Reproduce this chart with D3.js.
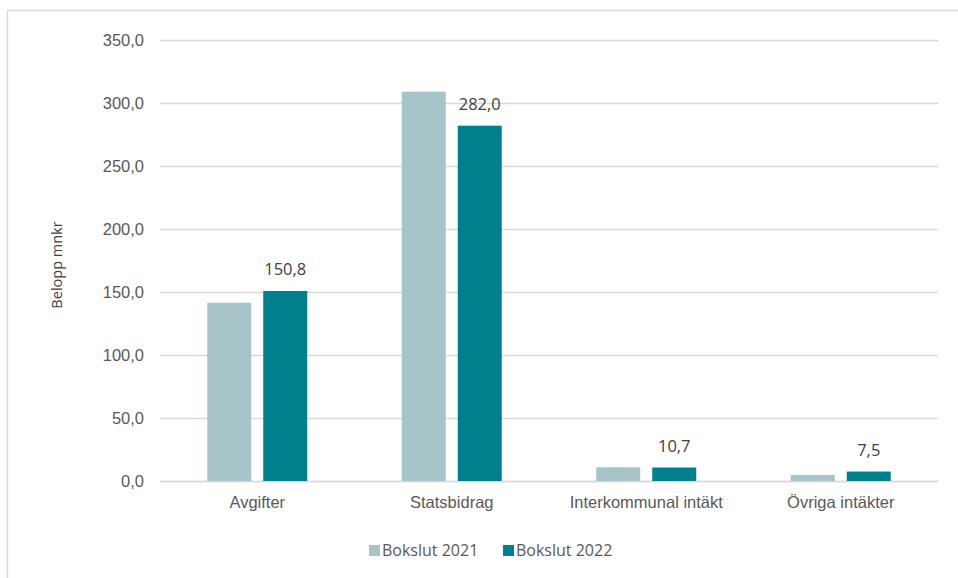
<!DOCTYPE html>
<html><head><meta charset="utf-8">
<script src="https://cdn.jsdelivr.net/npm/d3@7"></script>
<style>body{margin:0;background:#fff;}svg{display:block;font-family:"Open Sans","Noto Sans",sans-serif;}</style>
</head><body><svg id="c" width="958" height="578"></svg>
<script>
const categories = ["Avgifter", "Statsbidrag", "Interkommunal intäkt", "Övriga intäkter"];
const seriesNames = ["Bokslut 2021", "Bokslut 2022"];
const values2021 = [141.5, 309.0, 10.9, 4.8];
const values2022 = [150.8, 282.0, 10.7, 7.5];
const yTicks = [0, 50, 100, 150, 200, 250, 300, 350];
const colors = ["#A7C4C9", "#00808C"];

const svg = d3.select("#c");
const fmt = v => d3.format(".1f")(v).replace(".", ",");
svg.append("rect").attr("x", 7.5).attr("y", 10.5).attr("width", 1000).attr("height", 1000)
  .attr("fill", "none").attr("stroke", "#d9d9d9").attr("stroke-width", 1.5);

const L = 160, R = 938, T = 40, B = 481;
const x = d3.scaleBand().domain(categories).range([L, R]);
const groupW = 100;
const xs = d3.scaleBand().domain(seriesNames).range([0, groupW]).paddingInner(12 / 56).paddingOuter(0);
const off = (x.bandwidth() - groupW) / 2;
const y = d3.scaleLinear().domain([0, 350]).range([B, T]);

const ya = svg.append("g").attr("transform", `translate(${L},0)`)
  .call(d3.axisLeft(y).tickValues(yTicks).tickSize(-(R - L)).tickFormat(fmt).tickPadding(16));
ya.select(".domain").remove();
ya.selectAll(".tick line").attr("stroke", "#d9d9d9").attr("stroke-width", 1.3);
ya.selectAll(".tick text").attr("fill", "#595959").style("font-size", "16.5px");

const xa = svg.append("g").attr("transform", `translate(0,${B})`)
  .call(d3.axisBottom(x).tickSize(0).tickPadding(15));
xa.select(".domain").attr("stroke", "#d9d9d9").attr("stroke-width", 1.3);
xa.selectAll(".tick text").attr("fill", "#595959").style("font-size", "16.5px");

const series = [values2021, values2022];
series.forEach((vals, si) => {
  svg.append("g").selectAll("rect").data(vals).join("rect")
    .attr("x", (d, i) => x(categories[i]) + off + xs(seriesNames[si]))
    .attr("width", xs.bandwidth())
    .attr("y", d => y(d)).attr("height", d => B - y(d))
    .attr("fill", colors[si]);
});
svg.append("g").selectAll("text").data(values2022).join("text")
  .attr("x", (d, i) => x(categories[i]) + off + xs(seriesNames[1]) + xs.bandwidth() / 2)
  .attr("y", d => y(d) - 16)
  .attr("text-anchor", "middle").attr("fill", "#404040").style("font-size", "16.5px")
  .text(fmt);

svg.append("text").attr("transform", "translate(62,265) rotate(-90)")
  .attr("text-anchor", "middle").attr("fill", "#404040").style("font-size", "14.5px").text("Belopp mnkr");

const lg = svg.append("g");
const lx = [369, 503];
seriesNames.forEach((n, i) => {
  lg.append("rect").attr("x", lx[i]).attr("y", 545).attr("width", 11).attr("height", 11).attr("fill", colors[i]);
  lg.append("text").attr("x", lx[i] + 13).attr("y", 556).attr("fill", "#595959").style("font-size", "16px").text(n);
});
</script></body></html>
